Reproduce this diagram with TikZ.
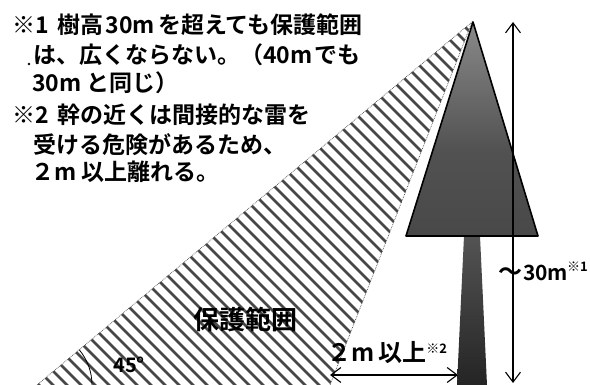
\documentclass[tikz,border=0pt]{standalone}
\usepackage{fontspec}
\newfontfamily\jp{Noto Sans CJK JP Bold}
\usetikzlibrary{arrows.meta}
% crown: pale at the tip, dark towards the base
\pgfdeclareverticalshading{conegrad}{100bp}{color(0bp)=(black!76); color(45bp)=(black!68); color(75bp)=(black!46); color(100bp)=(black!14)}
% trunk: grey at the top, almost black at the ground
\pgfdeclareverticalshading{trunkgrad}{100bp}{color(0bp)=(black!95); color(100bp)=(black!58)}
\tikzset{
  note/.style={anchor=base west, inner sep=0pt, font=\jp\fontsize{23}{23}\selectfont},
  label/.style={inner sep=0pt, font=\jp\fontsize{24}{24}\selectfont},
  hatch/.style={line width=2.5pt, black!72},
  zone/.style={line width=0.7pt, densely dotted, black!70},
  dim/.style={line width=1.1pt, arrows={Straight Barb[length=10pt,width=15pt]-Straight Barb[length=10pt,width=15pt]}},
}
\newcommand{\refmark}[1]{\raisebox{9pt}{\fontsize{13}{13}\selectfont ※#1}}
\begin{document}
\begin{tikzpicture}[x=1pt,y=-1pt]
\useasboundingbox[fill=white] (0,0) rectangle (590,385);

% protection zone
\coordinate (apex) at (472,22);
\coordinate (lv) at (37,385);
\coordinate (rv) at (330,385);
\begin{scope}
  \clip (apex) -- (lv) -- (rv) -- cycle;
  \foreach \k in {0,...,60}{
    \draw[hatch] (\k*14-360,0) -- ++(400,400);
  }
\end{scope}
\draw[zone] (lv) -- (apex) -- (rv);

% angle mark at the ground
\draw[line width=0.8pt] (lv) ++(55,0) arc[start angle=0, end angle=-40, radius=55];

% tree
\coordinate (tip) at (473,22);
\coordinate (cl) at (406,236);
\coordinate (cr) at (538,236);
\shade[shading=trunkgrad] (464,236) -- (480,236) -- (487,385) -- (457,385) -- cycle;
\shadedraw[shading=conegrad, draw=black, line width=1.6pt, line join=round] (tip) -- (cr) -- (cl) -- cycle;

% height dimension
\coordinate (htop) at (513,22);
\coordinate (hbot) at (513,383);
\draw[dim] (hbot) -- (htop);

% distance dimension
\coordinate (dl) at (330,375);
\coordinate (dr) at (458,375);
\draw[dim] (dl) -- (dr);

% notes
\node[note] (n1) at (12,34) {※1\hspace{9pt}樹高\hspace{2pt}30m\hspace{3pt}を超えても保護範囲};
\node[note] (n2) at (33,64) {は、広くならない。（40m\hspace{2pt}でも};
\node[note] (n3) at (32,92) {30m と同じ）};
\node[note] (n4) at (12,124) {※2\hspace{9pt}幹の近くは間接的な雷を};
\node[note] (n5) at (33,154) {受ける危険があるため、};
\node[note] (n6) at (31,181) {２m 以上離れる。};
\fill (29,64) circle (1.3);

% labels
\node[label, font=\jp\fontsize{26}{26}\selectfont] (zone) at (245,320) {保護範囲};
\node[label, anchor=base west, font=\jp\fontsize{20}{20}\selectfont] (ang) at (113,372) {45°};
\node[label, anchor=base west, font=\jp\fontsize{21}{21}\selectfont] (ht) at (498,280) {{\fontsize{24}{24}\selectfont 〜}\hspace{1pt}30m\hspace{-1pt}\refmark{1}};
\node[label, anchor=base west] (gap) at (327,362) {２m\hspace{4pt}以上\refmark{2}};
\end{tikzpicture}
\end{document}
